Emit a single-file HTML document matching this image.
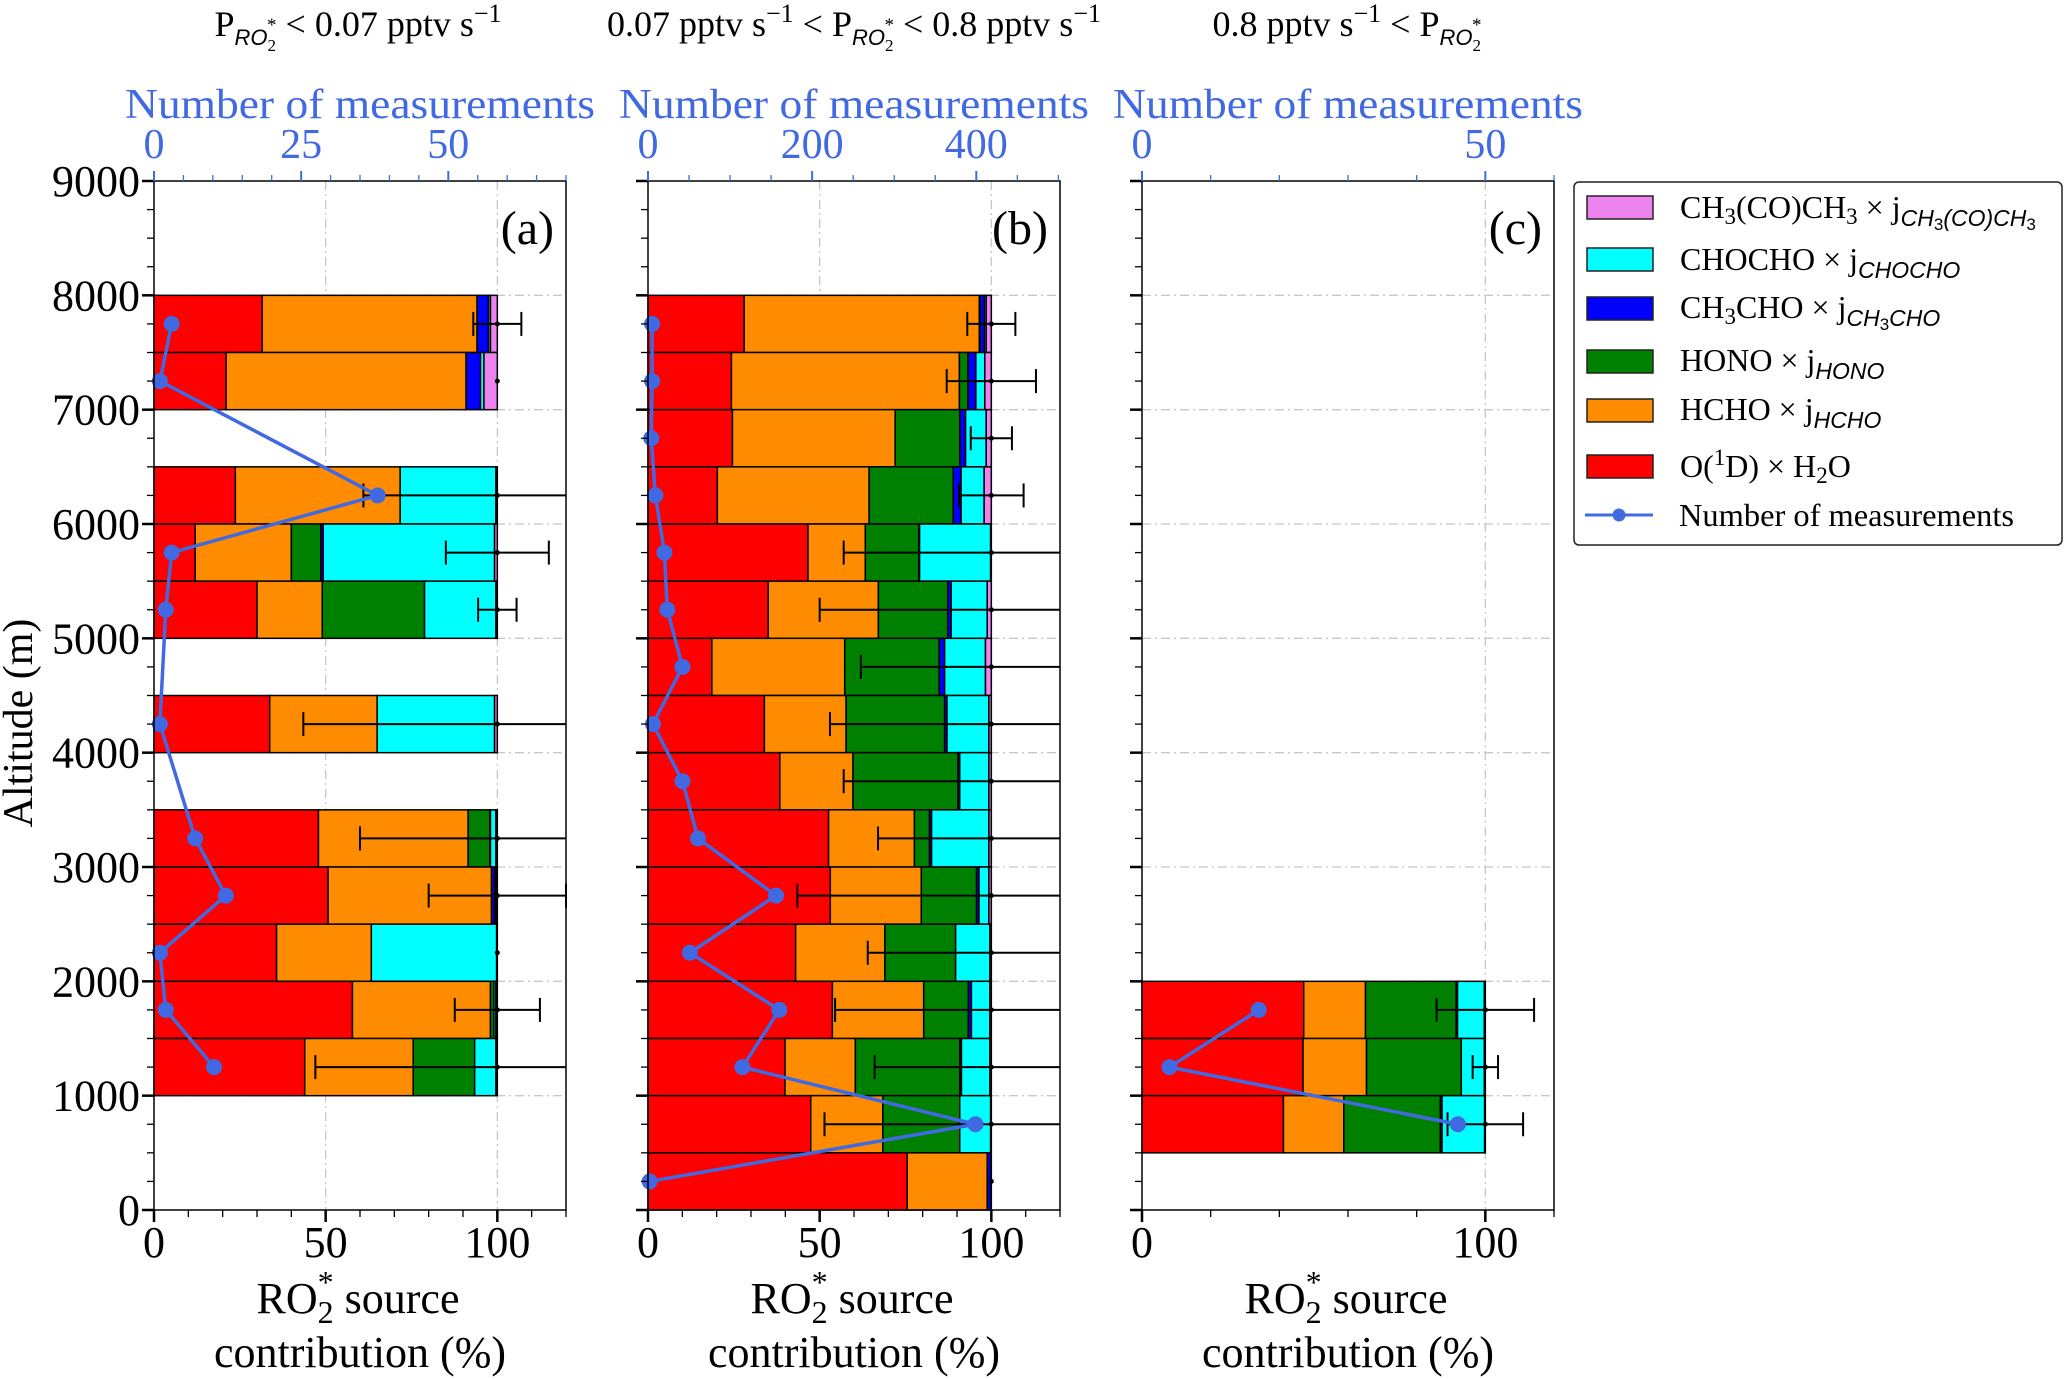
<!DOCTYPE html>
<html><head><meta charset="utf-8"><title>RO2* source contribution profiles</title>
<style>
html,body{margin:0;padding:0;background:#fff;}
svg{display:block;}
</style></head>
<body>
<svg id="chart" xmlns="http://www.w3.org/2000/svg" width="2067" height="1380" viewBox="0 0 2067 1380" font-family="Liberation Serif, serif">
<rect width="2067" height="1380" fill="#fff"/>
<g id="headers" font-size="36" fill="#000" text-anchor="middle" font-family="Liberation Serif, serif">
  <text x="358" y="36" font-family="Liberation Serif, serif">P<tspan font-family="Liberation Sans, sans-serif" font-style="italic" font-size="22" dy="9">RO</tspan><tspan font-size="17" dy="6">2</tspan><tspan font-size="19" dx="-9" dy="-20">*</tspan><tspan dy="5"> &lt; 0.07 pptv s</tspan><tspan font-size="26" dy="-14">−1</tspan></text>
  <text x="854" y="36" font-family="Liberation Serif, serif">0.07 pptv s<tspan font-size="26" dy="-14">−1</tspan><tspan dy="14"> &lt;  P</tspan><tspan font-family="Liberation Sans, sans-serif" font-style="italic" font-size="22" dy="9">RO</tspan><tspan font-size="17" dy="6">2</tspan><tspan font-size="19" dx="-9" dy="-20">*</tspan><tspan dy="5">  &lt; 0.8 pptv s</tspan><tspan font-size="26" dy="-14">−1</tspan></text>
  <text x="1347" y="36" font-family="Liberation Serif, serif">0.8 pptv s<tspan font-size="26" dy="-14">−1</tspan><tspan dy="14"> &lt; P</tspan><tspan font-family="Liberation Sans, sans-serif" font-style="italic" font-size="22" dy="9">RO</tspan><tspan font-size="17" dy="6">2</tspan><tspan font-size="19" dx="-9" dy="-20">*</tspan></text>
</g>
<text x="0" y="0" font-size="42" text-anchor="middle" font-family="Liberation Serif, serif" transform="translate(32,723) rotate(-90)">Altitude (m)</text>
<g id="panels" font-family="Liberation Serif, serif"></g>
<g id="legend" font-family="Liberation Serif, serif">
  <rect x="1574" y="182" width="488" height="363" rx="5" fill="#fff" stroke="#222" stroke-width="1.5"/>
  <rect x="1587" y="196" width="66" height="23" fill="#ee82ee" stroke="#222" stroke-width="1.5"/>
  <text x="1680" y="218" font-size="32" font-family="Liberation Serif, serif">CH<tspan font-size="23" dy="6">3</tspan><tspan dy="-6">(CO)CH</tspan><tspan font-size="23" dy="6">3</tspan><tspan dy="-6"> × j</tspan><tspan font-family="Liberation Sans, sans-serif" font-style="italic" font-size="23" dy="8">CH</tspan><tspan font-family="Liberation Sans, sans-serif" font-size="17" dy="4">3</tspan><tspan font-family="Liberation Sans, sans-serif" font-style="italic" font-size="23" dy="-4">(CO)CH</tspan><tspan font-family="Liberation Sans, sans-serif" font-size="17" dy="4">3</tspan></text>
  <rect x="1587" y="248" width="66" height="23" fill="#00ffff" stroke="#222" stroke-width="1.5"/>
  <text x="1680" y="270" font-size="32" font-family="Liberation Serif, serif">CHOCHO × j<tspan font-family="Liberation Sans, sans-serif" font-style="italic" font-size="23" dy="8">CHOCHO</tspan></text>
  <rect x="1587" y="297" width="66" height="23" fill="#0000ff" stroke="#222" stroke-width="1.5"/>
  <text x="1680" y="318" font-size="32" font-family="Liberation Serif, serif">CH<tspan font-size="23" dy="6">3</tspan><tspan dy="-6">CHO × j</tspan><tspan font-family="Liberation Sans, sans-serif" font-style="italic" font-size="23" dy="8">CH</tspan><tspan font-family="Liberation Sans, sans-serif" font-size="17" dy="4">3</tspan><tspan font-family="Liberation Sans, sans-serif" font-style="italic" font-size="23" dy="-4">CHO</tspan></text>
  <rect x="1587" y="350" width="66" height="23" fill="#008000" stroke="#222" stroke-width="1.5"/>
  <text x="1680" y="371" font-size="32" font-family="Liberation Serif, serif">HONO × j<tspan font-family="Liberation Sans, sans-serif" font-style="italic" font-size="23" dy="8">HONO</tspan></text>
  <rect x="1587" y="399" width="66" height="23" fill="#ff8c00" stroke="#222" stroke-width="1.5"/>
  <text x="1680" y="420" font-size="32" font-family="Liberation Serif, serif">HCHO × j<tspan font-family="Liberation Sans, sans-serif" font-style="italic" font-size="23" dy="8">HCHO</tspan></text>
  <rect x="1587" y="455" width="66" height="23" fill="#ff0000" stroke="#222" stroke-width="1.5"/>
  <text x="1680" y="477" font-size="32" font-family="Liberation Serif, serif">O(<tspan font-size="23" dy="-12">1</tspan><tspan dy="12">D) × H</tspan><tspan font-size="23" dy="6">2</tspan><tspan dy="-6">O</tspan></text>
  <line x1="1585" y1="515" x2="1653" y2="515" stroke="#4169e1" stroke-width="3"/>
  <circle cx="1619" cy="515" r="6.5" fill="#4169e1"/>
  <text x="1679" y="526" font-size="32" font-family="Liberation Serif, serif" textLength="335" lengthAdjust="spacingAndGlyphs">Number of measurements</text>
</g>
</svg>
<script>
// ---------- data ----------
const altA = [7750, 7250, 6250, 5750, 5250, 4250, 3250, 2750, 2250, 1750, 1250];
const o1dA = [31.5, 21, 23.7, 12, 30, 33.7, 47.9, 50.7, 35.7, 57.8, 43.9];
const hchoA = [62.6, 69.9, 48, 28, 19, 31.3, 43.6, 47.6, 27.6, 40.2, 31.6];
const honoA = [0, 0, 0, 8.6, 29.8, 0, 6.3, 0, 0, 1.0, 17.9];
const ch3choA = [3.3, 4.2, 0, 0.7, 0, 0, 0.2, 0.9, 0, 0, 0];
const chochoA = [0.6, 1.0, 27.9, 49.9, 20.8, 34.2, 1.6, 0.4, 36.5, 0.6, 6.2];
const acetoneA = [2.0, 3.9, 0.4, 0.8, 0.4, 0.8, 0.4, 0.4, 0.2, 0.4, 0.4];
const errA = [7, 0, 39, 15, 5.6, 56.5, 40, 20, 0, 12.4, 53];
const countA = [3, 1, 38, 3, 2, 1, 7, 12.2, 1, 2, 10.2];

const altB = [7750, 7250, 6750, 6250, 5750, 5250, 4750, 4250, 3750, 3250, 2750, 2250, 1750, 1250, 750, 250];
const o1dB = [28, 24.3, 24.6, 20.2, 46.6, 35, 18.6, 33.9, 38.4, 52.6, 53.1, 43, 53.7, 39.9, 47.4, 75.5];
const hchoB = [68.5, 66.4, 47.4, 44.2, 16.7, 32.1, 38.7, 23.8, 21.3, 25, 26.5, 26, 26.6, 20.5, 21, 23.3];
const honoB = [0.2, 2.5, 18.8, 24.5, 15.6, 20.2, 27.5, 28.7, 30.6, 4.4, 16.1, 20.6, 13, 30.4, 22.4, 0];
const ch3choB = [1.3, 2.3, 1.7, 2.3, 0.2, 1, 1.6, 0.7, 0.5, 0.6, 0.7, 0, 0.9, 0.5, 0, 1];
const chochoB = [0.5, 2.6, 6, 6.7, 20.7, 10.5, 11.9, 12.2, 8.5, 16.7, 2.9, 10, 5.4, 8.3, 9, 0];
const acetoneB = [1.5, 1.9, 1.5, 2.1, 0.2, 1.2, 1.7, 0.7, 0.7, 0.7, 0.7, 0.4, 0.4, 0.4, 0.2, 0.2];
const errB = [7, 13, 6, 9.4, 43, 50, 38, 47, 43, 33, 56.5, 36, 45.5, 34, 48.6, 0];
const countB = [5, 5, 4, 9, 20, 23.5, 42, 6, 42, 61, 156, 51, 160, 115, 399, 2];

const altC = [1750, 1250, 750];
const o1dC = [47.1, 46.9, 41.2];
const hchoC = [18, 18.5, 17.6];
const honoC = [26.4, 27.6, 28.1];
const ch3choC = [0.4, 0, 0.5];
const chochoC = [7.8, 6.7, 12.4];
const acetoneC = [0.3, 0.3, 0.2];
const errC = [14.2, 3.7, 11];
const countC = [17, 4, 46];

const altTicks = [0, 1000, 2000, 3000, 4000, 5000, 6000, 7000, 8000, 9000];
const pctTicksAB = [0, 50, 100];
const pctTicksC = [0, 100];
const countTicksA = [0, 25, 50];
const countTicksB = [0, 200, 400];
const countTicksC = [0, 50];

// ---------- layout ----------
const NS = "http://www.w3.org/2000/svg";
const TOP = 181, BOT = 1210, W = 412;
const FONT = "Liberation Serif, serif";
const speciesColors = ["#ff0000", "#ff8c00", "#008000", "#0000ff", "#00ffff", "#ee82ee"];
const speciesNames = ["o1d", "hcho", "hono", "ch3cho", "chocho", "acetone"];
const yScale = v => BOT - (v / 9000) * (BOT - TOP);

function mk(tag, attrs, parent) {
  const e = document.createElementNS(NS, tag);
  for (const k in attrs) e.setAttribute(k, attrs[k]);
  if (tag === "text") e.setAttribute("font-family", FONT);
  parent.appendChild(e);
  return e;
}

function drawPanel(id, x0, alts, series, errs, counts, countMax, pctT, cntT, cntMinor, pctMinor, label, showYLabels) {
  const root = document.getElementById("panels");
  const g = mk("g", {}, root);
  
  
  const xS = v => x0 + (v / 120) * W;
  const cS = v => x0 + (v / countMax) * W;
  for (let a = 1000; a <= 8000; a += 1000) {
    const gl = mk("line", {x1: x0, x2: x0 + W, y1: yScale(a), y2: yScale(a), stroke: "#c8c8c8", "stroke-width": 1.3, "stroke-dasharray": "9 4 2 4"}, g);
    
    
  }
  pctT.forEach(t => {
    if (t === 0) return;
    const gl = mk("line", {x1: xS(t), x2: xS(t), y1: TOP, y2: BOT, stroke: "#c8c8c8", "stroke-width": 1.3, "stroke-dasharray": "9 4 2 4"}, g);
    
    
  });
  alts.forEach((alt, i) => {
    let cum = 0;
    const yT = yScale(alt + 250), yB = yScale(alt - 250);
    series.forEach((arr, s) => {
      const v = arr[i];
      if (v > 0) {
        const r = mk("rect", {x: xS(cum), y: yT, width: xS(cum + v) - xS(cum), height: yB - yT, fill: speciesColors[s], stroke: "#000", "stroke-width": 1.5}, g);
        
        
      }
      cum += v;
    });
  });
  alts.forEach((alt, i) => {
    const y = yScale(alt), e = errs[i];
    const eg = mk("g", {}, g);
    
    
    if (e > 0) {
      const xl = xS(100 - e), xr = Math.min(xS(100 + e), x0 + W);
      mk("line", {x1: xl, x2: xr, y1: y, y2: y, stroke: "#000", "stroke-width": 2}, eg);
      mk("line", {x1: xl, x2: xl, y1: y - 12, y2: y + 12, stroke: "#000", "stroke-width": 2}, eg);
      if (xS(100 + e) <= x0 + W) mk("line", {x1: xr, x2: xr, y1: y - 12, y2: y + 12, stroke: "#000", "stroke-width": 2}, eg);
    }
    mk("circle", {cx: xS(100), cy: y, r: 2.5, fill: "#000"}, eg);
  });
  const pts = alts.map((a, i) => cS(counts[i]) + "," + yScale(a)).join(" ");
  const pl = mk("polyline", {points: pts, fill: "none", stroke: "#4169e1", "stroke-width": 3.5}, g);
  
  
  alts.forEach((a, i) => {
    const c = mk("circle", {cx: cS(counts[i]), cy: yScale(a), r: 8, fill: "#4169e1"}, g);
    
    
  });
  const fr = mk("rect", {x: x0, y: TOP, width: W, height: BOT - TOP, fill: "none", stroke: "#000", "stroke-width": 1.5}, g);
  
  
  for (let a = 0; a <= 9000; a += 250) {
    const major = a % 1000 === 0;
    mk("line", {x1: x0 - (major ? 12 : 7), x2: x0, y1: yScale(a), y2: yScale(a), stroke: "#000", "stroke-width": major ? 2.5 : 1.3}, g);
  }
  if (showYLabels) {
    altTicks.forEach(a => {
      const t = mk("text", {x: x0 - 14, y: yScale(a) + 15, "font-size": 44, "text-anchor": "end"}, g);
      
      
      t.textContent = a;
    });
  }
  for (let p = 0; p <= 120; p += pctMinor) {
    const major = pctT.indexOf(p) >= 0;
    mk("line", {x1: xS(p), x2: xS(p), y1: BOT, y2: BOT + (major ? 12 : 7), stroke: "#000", "stroke-width": major ? 2.5 : 1.3}, g);
  }
  pctT.forEach(p => {
    const t = mk("text", {x: xS(p), y: 1257, "font-size": 44, "text-anchor": "middle"}, g);
    
    
    t.textContent = p;
  });
  for (let c = 0; c <= countMax + 0.01; c += cntMinor) {
    const major = cntT.indexOf(c) >= 0;
    mk("line", {x1: cS(c), x2: cS(c), y1: TOP, y2: TOP - (major ? 10 : 6), stroke: "#4169e1", "stroke-width": major ? 2 : 1.3}, g);
  }
  cntT.forEach(c => {
    const t = mk("text", {x: cS(c), y: 158, "font-size": 42, "text-anchor": "middle", fill: "#4169e1"}, g);
    
    
    t.textContent = c;
  });
  const tt = mk("text", {x: x0 + W / 2, y: 118, "font-size": 42, "text-anchor": "middle", fill: "#4169e1", textLength: 470, lengthAdjust: "spacingAndGlyphs"}, g);
  
  
  tt.textContent = "Number of measurements";
  const pl2 = mk("text", {x: x0 + W - 12, y: 244, "font-size": 48, "text-anchor": "end"}, g);
  
  
  pl2.textContent = label;
  const bt = mk("text", {x: x0 + W / 2 - 2, y: 1313, "font-size": 44, "text-anchor": "middle"}, g);
  
  
  bt.innerHTML = 'RO<tspan font-size="32" dy="10">2</tspan><tspan font-size="32" dx="-16" dy="-30">*</tspan><tspan dy="20">  source</tspan>';
  const bt2 = mk("text", {x: x0 + W / 2, y: 1367, "font-size": 44, "text-anchor": "middle"}, g);
  
  
  bt2.textContent = "contribution (%)";
}

drawPanel("a", 154, altA, [o1dA, hchoA, honoA, ch3choA, chochoA, acetoneA], errA, countA, 70, pctTicksAB, countTicksA, 5, 10, "(a)", true);
drawPanel("b", 648, altB, [o1dB, hchoB, honoB, ch3choB, chochoB, acetoneB], errB, countB, 502, pctTicksAB, countTicksB, 50, 10, "(b)", false);
drawPanel("c", 1142, altC, [o1dC, hchoC, honoC, ch3choC, chochoC, acetoneC], errC, countC, 60, pctTicksC, countTicksC, 10, 20, "(c)", false);
</script>
</body></html>
